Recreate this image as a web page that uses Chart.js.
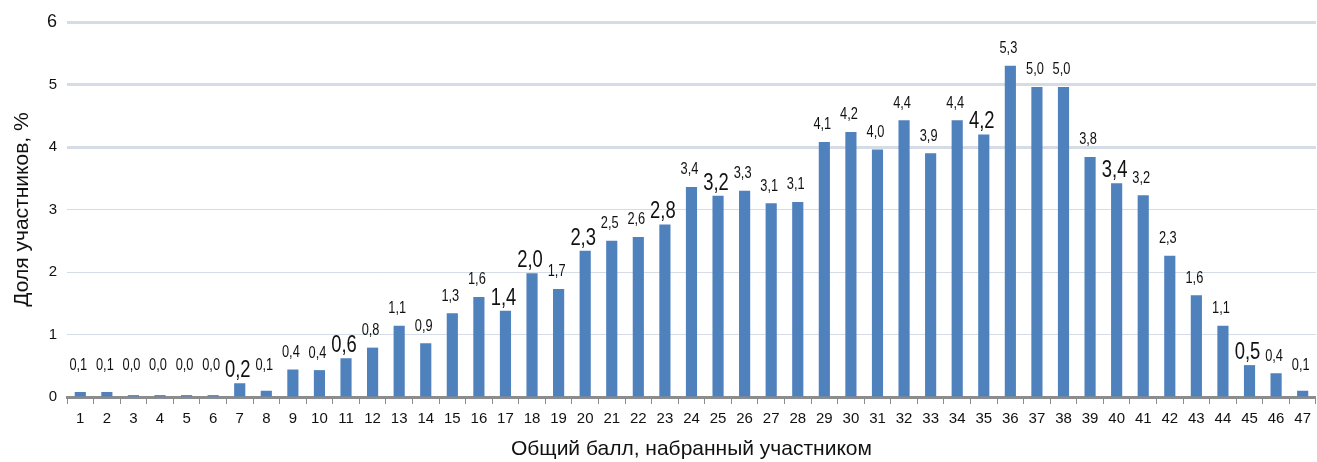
<!DOCTYPE html>
<html>
<head>
<meta charset="utf-8">
<script src="https://cdn.jsdelivr.net/npm/chart.js@4/dist/chart.umd.min.js"></script>
<style>
  html, body { margin: 0; padding: 0; background: #fff; }
  #c { display: block; }
</style>
</head>
<body>
<canvas id="c" width="1317" height="462"></canvas>
<script>
// баллы 1..47
const scores = [];
for (let i = 1; i <= 47; i++) scores.push(String(i));

// доля участников, %
const shares = [
  0.08, 0.08, 0.03, 0.03, 0.03, 0.03, 0.22, 0.10, 0.44, 0.43,
  0.62, 0.79, 1.14, 0.86, 1.34, 1.60, 1.38, 1.98, 1.73, 2.34,
  2.50, 2.56, 2.76, 3.36, 3.22, 3.30, 3.10, 3.12, 4.08, 4.24,
  3.96, 4.43, 3.90, 4.43, 4.20, 5.30, 4.96, 4.96, 3.84, 3.42,
  3.23, 2.26, 1.63, 1.14, 0.51, 0.38, 0.10
];

// подписи, выделенные крупным шрифтом
const bigLabels = [7, 11, 17, 18, 20, 23, 25, 35, 40, 45];

const yTicks = [0, 1, 2, 3, 4, 5, 6];

// подписи значений (узкий шрифт — сжимаем по горизонтали)
const valueLabels = {
  id: "valueLabels",
  afterDatasetsDraw(chart) {
    const c = chart.ctx;
    const meta = chart.getDatasetMeta(0);
    meta.data.forEach((bar, i) => {
      const big = bigLabels.includes(i + 1);
      const txt = shares[i].toFixed(1).replace(".", ",");
      const base = Math.min(bar.y, chart.chartArea.bottom - 14);
      const y = big ? base - 1 : base - 9;
      c.save();
      c.translate(bar.x - 2, y);
      c.scale(0.8, 1);
      c.fillStyle = "#111";
      c.textAlign = "center";
      c.textBaseline = "bottom";
      c.font = (big ? "23px" : "16px") + " 'Liberation Sans', Arial";
      c.fillText(txt, 0, 0);
      c.restore();
    });
  }
};

new Chart(document.getElementById("c"), {
  type: "bar",
  data: {
    labels: scores,
    datasets: [{
      data: shares,
      backgroundColor: "#4f81bd",
      barPercentage: 0.42,
      categoryPercentage: 1.0,
    }],
  },
  options: {
    responsive: false,
    animation: false,
    layout: { padding: { top: 22, right: 0, left: 0, bottom: 0 } },
    plugins: {
      legend: { display: false },
      tooltip: { enabled: false },
    },
    scales: {
      x: {
        grid: {
          display: true,
          drawOnChartArea: false,
          drawTicks: true,
          tickLength: 7,
          color: "#8c8c8c",
          lineWidth: 1,
        },
        border: { display: true, color: "#8c8c8c", width: 3 },
        ticks: {
          color: "#111",
          font: { family: "'Liberation Sans', Arial", size: 15 },
          maxRotation: 0,
          autoSkip: false,
          padding: 6,
        },
        title: {
          display: true,
          text: "Общий балл, набранный участником",
          color: "#111",
          font: { family: "'Liberation Sans', Arial", size: 21 },
          padding: { top: 4, bottom: 0 },
        },
        afterFit(axis) { axis.height = 65; },
      },
      y: {
        min: 0,
        max: 6,
        afterBuildTicks(axis) {
          axis.ticks = yTicks.map(v => ({ value: v }));
        },
        grid: {
          color: "#d6dce5",
          lineWidth: (ctx) => (ctx.tick && ctx.tick.value >= 4 ? 3 : 1),
          drawTicks: false,
        },
        border: { display: false },
        ticks: {
          color: "#111",
          font: (ctx) => ({ family: "'Liberation Sans', Arial", size: ctx.tick && ctx.tick.value === 6 ? 18 : 15 }),
          padding: 10,
        },
        title: {
          display: true,
          text: "Доля участников, %",
          color: "#111",
          font: { family: "'Liberation Sans', Arial", size: 21 },
          padding: { top: 10, bottom: 0 },
        },
        afterFit(axis) { axis.width = 67; },
      },
    },
  },
  plugins: [valueLabels],
});
</script>
</body>
</html>
